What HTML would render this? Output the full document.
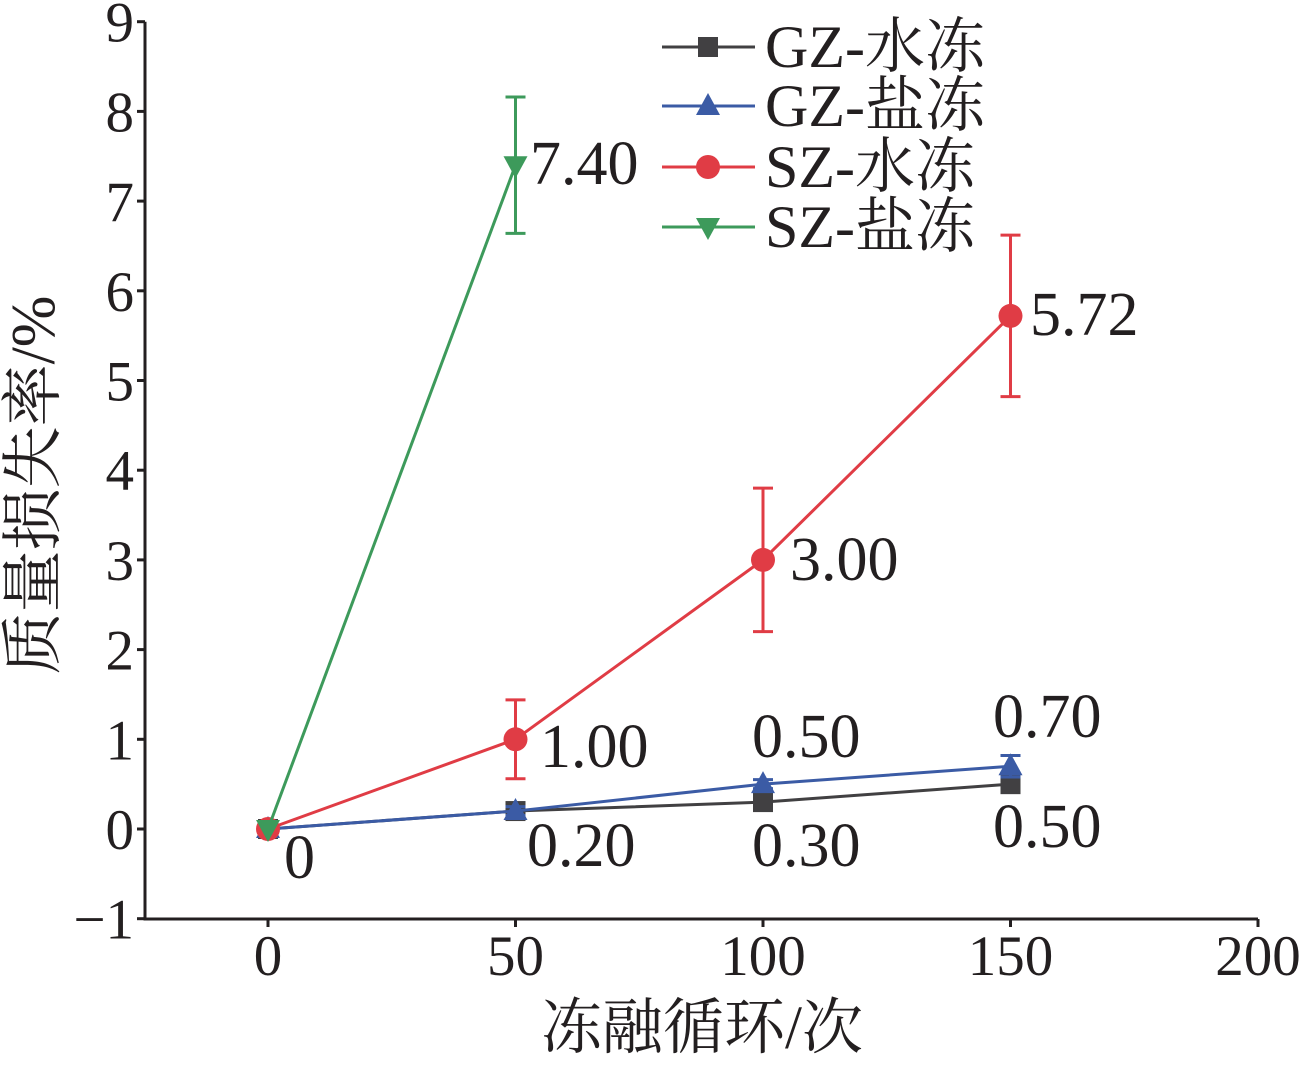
<!DOCTYPE html>
<html><head><meta charset="utf-8"><style>
html,body{margin:0;padding:0;background:#fff}
svg text{font-family:"Liberation Serif","Noto Serif CJK SC",serif;fill:#231f20}
</style></head><body>
<svg id="chart" width="1303" height="1060" xmlns="http://www.w3.org/2000/svg"></svg>
<script>
const xCats=[0,50,100,150];
const gzWater=[0,0.2,0.3,0.5];
const gzSalt=[0,0.2,0.5,0.7];
const gzSaltErr=[0,0.05,0.05,0.12];
const szWater=[0,1.0,3.0,5.72];
const szWaterErr=[0,0.44,0.8,0.9];
const szSaltX=[0,50];
const szSalt=[0,7.40];
const szSaltErr=[0,0.76];
const xTicks=[0,50,100,150,200];
const yTicks=[-1,0,1,2,3,4,5,6,7,8,9];
const yTickLabels=["\u22121","0","1","2","3","4","5","6","7","8","9"];

const NS="http://www.w3.org/2000/svg";
const svg=document.getElementById('chart');
const X=v=>268+(v)*4.95;
const Y=v=>829-v*89.7;
function mk(tag,attrs,parent){const e=document.createElementNS(NS,tag);for(const k in attrs)e.setAttribute(k,attrs[k]);(parent||svg).appendChild(e);return e;}
function txt(s,x,y,anchor,size){const t=mk('text',{x:x,y:y,'text-anchor':anchor||'start','font-size':size||46});t.textContent=s;return t;}

const ax=mk('path',{d:`M145 ${Y(9)} V919 H1258`,stroke:'#231f20','stroke-width':3,fill:'none'});


yTicks.forEach((v,i)=>{
  const l=mk('line',{x1:137,x2:145,y1:Y(v),y2:Y(v),stroke:'#231f20','stroke-width':3});
  
  
  const t=txt(yTickLabels[i],134,Y(v)+20,'end',57);
  
  
});
xTicks.forEach(v=>{
  const l=mk('line',{x1:X(v),x2:X(v),y1:919,y2:927,stroke:'#231f20','stroke-width':3});
  
  
  const t=txt(String(v),X(v),975,'middle',57);
  
  
});
const xt=txt('冻融循环/次',702,1048,'middle',61);


const yt=txt('质量损失率/%',0,0,'middle',62);
yt.setAttribute('transform','translate(54,485) rotate(-90)');



function marker(type,x,y,color,g){
  if(type==='square')return mk('rect',{x:x-10,y:y-10,width:20,height:20,fill:color},g);
  if(type==='up')return mk('polygon',{points:`${x},${y-13} ${x+12},${y+9} ${x-12},${y+9}`,fill:color},g);
  if(type==='down')return mk('polygon',{points:`${x},${y+13} ${x+12},${y-9} ${x-12},${y-9}`,fill:color},g);
  return mk('circle',{cx:x,cy:y,r:12,fill:color},g);
}
function series(name,xs,ys,errs,color,type){
  const g=mk('g',{});
  
  
  mk('polyline',{points:xs.map((x,i)=>X(x)+','+Y(ys[i])).join(' '),fill:'none',stroke:color,'stroke-width':3},g);
  if(errs)xs.forEach((x,i)=>{if(!errs[i])return;
    const top=Y(ys[i]+errs[i]),bot=Y(ys[i]-errs[i]),cx=X(x);
    mk('path',{d:`M${cx} ${top}V${bot}M${cx-10} ${top}H${cx+10}M${cx-10} ${bot}H${cx+10}`,stroke:color,'stroke-width':3,fill:'none'},g);});
  xs.forEach((x,i)=>marker(type,X(x),Y(ys[i]),color,g));
}
series('series-gz-water',xCats,gzWater,null,'#414042','square');
series('series-gz-salt',xCats,gzSalt,gzSaltErr,'#3b5ba5','up');
series('series-sz-water',xCats,szWater,szWaterErr,'#e03c45','circle');
series('series-sz-salt',szSaltX,szSalt,szSaltErr,'#3d9a5b','down');

[['7.40',530,184],['5.72',1030,335],['3.00',790,580],['1.00',540,767],['0.50',752,757],['0.70',993,737],['0.20',527,866],['0.30',752,866],['0.50',993,847],['0',284,878]].forEach(a=>{
  const t=txt(a[0],a[1],a[2],'start',62);
  
  
});

const legend=[['GZ-水冻','#414042','square',47],['GZ-盐冻','#3b5ba5','up',106],['SZ-水冻','#e03c45','circle',167],['SZ-盐冻','#3d9a5b','down',227]];
legend.forEach(l=>{
  const g=mk('g',{});
  
  
  mk('line',{x1:662,x2:755,y1:l[3],y2:l[3],stroke:l[1],'stroke-width':3},g);
  marker(l[2],708,l[3],l[1],g);
  const t=mk('text',{x:765,y:l[3]+20,'font-size':60},g);t.textContent=l[0];
});
</script>
</body></html>
